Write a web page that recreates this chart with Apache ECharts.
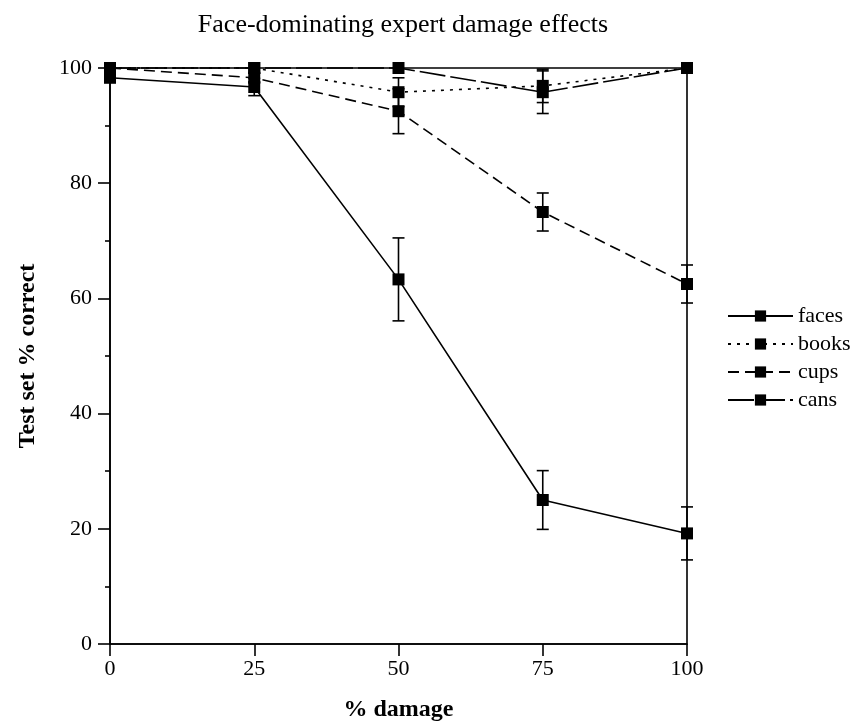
<!DOCTYPE html>
<html>
<head>
<meta charset="utf-8">
<script src="https://cdn.jsdelivr.net/npm/echarts@6/dist/echarts.min.js"></script>
<style>
  html, body { margin: 0; padding: 0; background: #fff; }
  #main { width: 865px; height: 727px; }
</style>
</head>
<body>
<div id="main"></div>
<script>
// % damage levels
const damage = [0, 25, 50, 75, 100];

// test set % correct for each category
const faces = [98.3, 96.7, 63.3, 25.0, 19.2];
const books = [100, 100, 95.8, 96.9, 100];
const cups = [100, 98.3, 92.5, 75.0, 62.5];
const cans = [100, 100, 100, 95.8, 100];

// error bar half-heights
const facesErr = [0, 1.5, 7.2, 5.1, 4.6];
const booksErr = [0, 0, 2.5, 2.9, 0];
const cupsErr = [0, 0.8, 3.9, 3.3, 3.3];
const cansErr = [0, 0, 0, 3.7, 0];

const yTicks = [0, 20, 40, 60, 80, 100];
const xTicks = [0, 25, 50, 75, 100];

const FONT = '"Liberation Serif", "DejaVu Serif", serif';

function pairs(vals) {
    return damage.map((d, i) => [d, vals[i]]);
}

function errData(vals, errs) {
    return damage.map((d, i) => [d, vals[i] - errs[i], vals[i] + errs[i]]).filter((r, i) => errs[i] > 0);
}

function errorSeries(vals, errs) {
    return {
        type: 'custom',
        silent: true,
        clip: false,
        z: 1,
        data: errData(vals, errs),
        renderItem: function (params, api) {
            let x = api.value(0);
            let lo = api.coord([x, api.value(1)]);
            let hi = api.coord([x, api.value(2)]);
            let hw = 6;
            let style = { stroke: '#000', lineWidth: 1.6 };
            return {
                type: 'group',
                children: [
                    { type: 'line', shape: { x1: lo[0], y1: lo[1], x2: hi[0], y2: hi[1] }, style: style },
                    { type: 'line', shape: { x1: lo[0] - hw, y1: lo[1], x2: lo[0] + hw, y2: lo[1] }, style: style },
                    { type: 'line', shape: { x1: hi[0] - hw, y1: hi[1], x2: hi[0] + hw, y2: hi[1] }, style: style }
                ]
            };
        }
    };
}

function lineSeries(name, vals, dash) {
    return {
        name: name,
        type: 'line',
        data: pairs(vals),
        symbol: 'rect',
        symbolSize: 12,
        clip: false,
        z: 3,
        itemStyle: { color: '#000' },
        lineStyle: { color: '#000', width: 1.6, type: dash },
        emphasis: { disabled: true }
    };
}

let myChart = echarts.init(document.getElementById('main'));
myChart.setOption({
    backgroundColor: '#fff',
    animation: false,
    title: {
        text: 'Face-dominating expert damage effects',
        left: 398,
        textAlign: 'center',
        top: 7,
        textStyle: { fontFamily: FONT, fontWeight: 'normal', fontSize: 26, color: '#000' }
    },
    legend: {
        orient: 'vertical',
        left: 722,
        top: 300,
        itemWidth: 65,
        itemHeight: 14,
        itemGap: 6,
        textStyle: { fontFamily: FONT, fontSize: 22, color: '#000' },
        data: ['faces', 'books', 'cups', 'cans']
    },
    grid: {
        left: 110,
        right: 178,
        top: 68,
        bottom: 82,
        show: true,
        borderColor: '#000',
        borderWidth: 1.6
    },
    xAxis: {
        type: 'value',
        min: 0,
        max: 100,
        interval: 25,
        name: '% damage',
        nameLocation: 'middle',
        nameGap: 54,
        nameTextStyle: { fontFamily: FONT, fontWeight: 'bold', fontSize: 24, color: '#000' },
        axisLine: { onZero: false, lineStyle: { color: '#000', width: 1.6 } },
        axisTick: { length: 12, lineStyle: { color: '#000', width: 1.6 } },
        axisLabel: {
            fontFamily: FONT, fontSize: 22, color: '#000', margin: 14,
            customValues: xTicks
        },
        splitLine: { show: false }
    },
    yAxis: {
        type: 'value',
        min: 0,
        max: 100,
        interval: 20,
        name: 'Test set % correct',
        nameLocation: 'middle',
        nameGap: 70,
        nameTextStyle: { fontFamily: FONT, fontWeight: 'bold', fontSize: 24, color: '#000' },
        axisLine: { show: true, lineStyle: { color: '#000', width: 1.6 } },
        axisTick: { show: true, length: 12, lineStyle: { color: '#000', width: 1.6 } },
        minorTick: { show: true, splitNumber: 2, length: 5, lineStyle: { color: '#000', width: 1.6 } },
        axisLabel: {
            fontFamily: FONT, fontSize: 22, color: '#000', margin: 18,
            customValues: yTicks
        },
        splitLine: { show: false }
    },
    series: [
        lineSeries('faces', faces, 'solid'),
        lineSeries('books', books, [3, 6]),
        lineSeries('cups', cups, [11, 6]),
        lineSeries('cans', cans, [26, 5]),
        errorSeries(faces, facesErr),
        errorSeries(books, booksErr),
        errorSeries(cups, cupsErr),
        errorSeries(cans, cansErr)
    ]
});
</script>
</body>
</html>
